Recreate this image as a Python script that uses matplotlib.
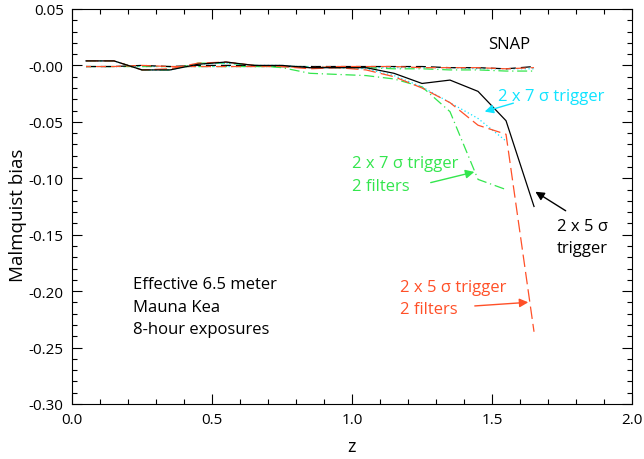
import numpy as np
import matplotlib
matplotlib.use("Agg")
import matplotlib.pyplot as plt
from matplotlib.ticker import MultipleLocator, FormatStrFormatter, FuncFormatter

plt.rcParams['font.family'] = ['Open Sans', 'DejaVu Sans']
plt.rcParams['axes.unicode_minus'] = False

z = [0.05, 0.15, 0.25, 0.35, 0.45, 0.55, 0.65, 0.75, 0.85, 0.95, 1.05, 1.15, 1.25, 1.35, 1.45, 1.55, 1.65]
z7 = z[:16]

# Ground-based (Mauna Kea) curves
mk_5sig = [0.004, 0.004, -0.004, -0.004, 0.001, 0.003, 0.000, 0.000, -0.002, -0.002, -0.002, -0.007, -0.016, -0.013, -0.023, -0.049, -0.125]
mk_5sig_2f = [0.004, 0.004, -0.004, -0.003, 0.002, 0.003, 0.000, -0.001, -0.003, -0.002, -0.004, -0.010, -0.020, -0.033, -0.053, -0.061, -0.236]
mk_7sig = [0.004, 0.004, -0.004, -0.004, 0.001, 0.002, 0.000, 0.000, -0.002, -0.002, -0.003, -0.009, -0.019, -0.033, -0.047, -0.067]
mk_7sig_2f = [0.004, 0.004, -0.004, -0.004, 0.002, 0.002, 0.000, -0.002, -0.007, -0.008, -0.009, -0.012, -0.019, -0.041, -0.101, -0.110]

# SNAP curves
snap_5sig = [-0.001, -0.001, 0.000, -0.001, 0.000, 0.000, 0.000, -0.001, -0.001, -0.001, -0.001, -0.001, -0.001, -0.002, -0.002, -0.003, -0.001]
snap_5sig_2f = [-0.001, -0.001, 0.000, -0.001, -0.001, -0.001, -0.001, -0.001, -0.002, -0.001, -0.001, -0.001, -0.002, -0.002, -0.002, -0.003, -0.002]
snap_7sig = [-0.001, -0.001, -0.001, -0.001, -0.001, -0.001, -0.001, -0.001, -0.001, -0.001, -0.002, -0.002, -0.002, -0.002, -0.003, -0.003, -0.003]
snap_7sig_2f = [-0.001, -0.001, -0.001, -0.001, -0.001, -0.001, -0.001, -0.001, -0.001, -0.002, -0.002, -0.003, -0.003, -0.004, -0.004, -0.005, -0.005]

BLACK = '#000000'
RED = '#ff5028'
GREEN = '#33e64d'
CYAN = '#10e4ff'

fig = plt.figure(figsize=(6.44, 4.60), dpi=100)
ax = fig.add_axes([0.1118, 0.1196, 0.8696, 0.8587])

lw = 0.9
ax.plot(z, snap_7sig, color=CYAN, lw=lw, ls=(0, (1, 2)))
ax.plot(z, snap_7sig_2f, color=GREEN, lw=lw, ls=(0, (8, 3, 1, 3)))
ax.plot(z, snap_5sig, color=BLACK, lw=lw, ls=(0, (8, 4)))
ax.plot(z, snap_5sig_2f, color=RED, lw=lw, ls=(4, (8, 4)))

ax.plot(z7, mk_7sig_2f, color=GREEN, lw=lw, ls=(0, (8, 3, 1, 3)))
ax.plot(z7, mk_7sig, color=CYAN, lw=lw, ls=(0, (1, 2)))
ax.plot(z, mk_5sig_2f, color=RED, lw=lw, ls=(0, (10, 4)))
ax.plot(z, mk_5sig, color=BLACK, lw=lw, ls='-')

ax.set_xlim(0.0, 2.0)
ax.set_ylim(-0.30, 0.05)
ax.xaxis.set_major_locator(MultipleLocator(0.5))
ax.xaxis.set_minor_locator(MultipleLocator(0.1))
ax.yaxis.set_major_locator(MultipleLocator(0.05))
ax.yaxis.set_minor_locator(MultipleLocator(0.01))
ax.xaxis.set_major_formatter(FormatStrFormatter('%.1f'))
ax.yaxis.set_major_formatter(FuncFormatter(lambda v, p: '-0.00' if abs(v) < 1e-9 else '%.2f' % v))
ax.tick_params(which='both', direction='in', top=True, right=True, labelsize=11, width=0.8)
ax.tick_params(which='major', length=7, pad=6)
ax.tick_params(which='minor', length=3.5)
for s in ax.spines.values():
    s.set_linewidth(0.8)

fig.text(352 / 644, 1 - 447 / 460, 'z', fontsize=13, ha='center', va='center')
fig.text(18 / 644, 1 - 215 / 460, 'Malmquist bias', fontsize=13.5, ha='center', va='center', rotation=90)


def px(x, y):
    return ((x - 72) / 280.0, (66 - y) * 0.000885)


def lines(x0, ys, strs, color, fs=12):
    for y, s in zip(ys, strs):
        ax.text(*px(x0, y), s, fontsize=fs, color=color, ha='left', va='center')


arrow = dict(arrowstyle='-|>', lw=1.0, mutation_scale=13)

lines(488, [45], ['SNAP'], BLACK)
lines(498, [97], ['2 x 7 σ trigger'], CYAN)
ax.annotate('', xy=px(482, 113), xytext=px(516, 103), arrowprops=dict(color=CYAN, **arrow))
lines(352, [164, 187], ['2 x 7 σ trigger', '2 filters'], GREEN)
ax.annotate('', xy=px(477, 172), xytext=px(428, 184), arrowprops=dict(color=GREEN, **arrow))
lines(557, [227, 249], ['2 x 5 σ', 'trigger'], BLACK)
ax.annotate('', xy=px(533, 191), xytext=px(568, 213), arrowprops=dict(color=BLACK, **arrow))
lines(400, [288, 310], ['2 x 5 σ trigger', '2 filters'], RED)
ax.annotate('', xy=px(531, 303), xytext=px(472, 307), arrowprops=dict(color=RED, **arrow))
lines(133, [285, 308, 330], ['Effective 6.5 meter', 'Mauna Kea', '8-hour exposures'], BLACK)

fig.savefig('out.png', dpi=100)
